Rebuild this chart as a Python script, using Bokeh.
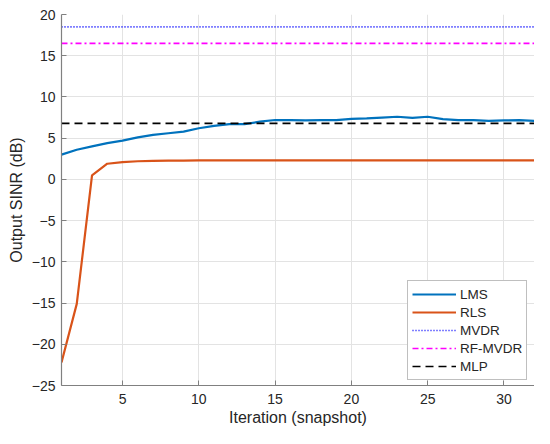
from bokeh.plotting import figure
from bokeh.embed import file_html
from bokeh.resources import INLINE
from bokeh.models import Legend, LegendItem, FixedTicker, Range1d

iterations = list(range(1, 33))
lms = [3.0, 3.6, 4.0, 4.4, 4.7, 5.1, 5.4, 5.6, 5.8, 6.2, 6.5, 6.7, 6.7, 7.0, 7.2, 7.2,
       7.15, 7.2, 7.2, 7.35, 7.4, 7.5, 7.6, 7.45, 7.6, 7.3, 7.2, 7.2, 7.1, 7.15, 7.2, 7.1]
rls = [-22.2, -15.1, 0.5, 1.9, 2.1, 2.2, 2.25, 2.27, 2.28, 2.3, 2.3, 2.3, 2.3, 2.3, 2.3, 2.3,
       2.3, 2.3, 2.3, 2.3, 2.3, 2.3, 2.3, 2.3, 2.3, 2.3, 2.3, 2.3, 2.3, 2.3, 2.3, 2.3]
mvdr_level = 18.5
rf_mvdr_level = 16.5
mlp_level = 6.8
x_ticks = [5, 10, 15, 20, 25, 30]
y_ticks = [-25, -20, -15, -10, -5, 0, 5, 10, 15, 20]

FONT = "Liberation Sans"
TXT = "#262626"

p = figure(width=534, height=428, output_backend="svg", toolbar_location=None,
           x_range=Range1d(1, 32), y_range=Range1d(-25, 20),
           min_border_left=61, min_border_right=0, min_border_top=14, min_border_bottom=42)
p.outline_line_color = None
p.background_fill_color = "white"

r_lms = p.line(iterations, lms, line_color="#0072BD", line_width=2.2)
r_rls = p.line(iterations, rls, line_color="#D95319", line_width=2.2)
xs_full = [iterations[0], iterations[-1]]
r_mvdr = p.line(xs_full, [mvdr_level] * 2, line_color="#0000FF", line_width=1.6, line_dash="1 2")
r_rf = p.line(xs_full, [rf_mvdr_level] * 2, line_color="#FF00FF", line_width=1.6, line_dash="6 3 2 3")
r_mlp = p.line(xs_full, [mlp_level] * 2, line_color="#000000", line_width=1.6, line_dash="8 5")

for ax in (p.xaxis[0], p.yaxis[0]):
    ax.axis_line_color = "#808080"
    ax.axis_line_width = 1.2
    ax.major_tick_line_color = "#808080"
    ax.major_tick_in = 5
    ax.major_tick_out = 0
    ax.minor_tick_line_color = None
    ax.major_label_text_font = FONT
    ax.major_label_text_font_size = "14px"
    ax.major_label_text_color = TXT
    ax.axis_label_text_font = FONT
    ax.axis_label_text_font_size = "16px"
    ax.axis_label_text_font_style = "normal"
    ax.axis_label_text_color = TXT

p.xaxis.ticker = FixedTicker(ticks=x_ticks)
p.yaxis.ticker = FixedTicker(ticks=y_ticks)
p.yaxis.major_label_overrides = {t: (str(t).replace("-", "\u2212")) for t in y_ticks}
p.xaxis.axis_label = "Iteration (snapshot)"
p.yaxis.axis_label = "Output SINR (dB)"
p.xaxis.major_label_standoff = 8
p.yaxis.major_label_standoff = 6
p.xaxis.axis_label_standoff = 2
p.yaxis.axis_label_standoff = 4

p.grid.grid_line_color = "#e3e3e3"
p.grid.grid_line_width = 1

legend = Legend(items=[
    LegendItem(label="LMS", renderers=[r_lms]),
    LegendItem(label="RLS", renderers=[r_rls]),
    LegendItem(label="MVDR", renderers=[r_mvdr]),
    LegendItem(label="RF-MVDR", renderers=[r_rf]),
    LegendItem(label="MLP", renderers=[r_mlp]),
], location=(346, 5))
legend.margin = 0
legend.padding = 4
legend.spacing = 0
legend.glyph_width = 44
legend.glyph_height = 18
legend.label_height = 18
legend.label_standoff = 4
legend.label_text_font = FONT
legend.label_text_font_size = "13.5px"
legend.label_text_color = TXT
legend.border_line_color = "#808080"
legend.border_line_width = 1.2
legend.background_fill_color = "white"
legend.background_fill_alpha = 1.0
p.add_layout(legend, "center")

open("out.html", "w").write(file_html(p, INLINE))
